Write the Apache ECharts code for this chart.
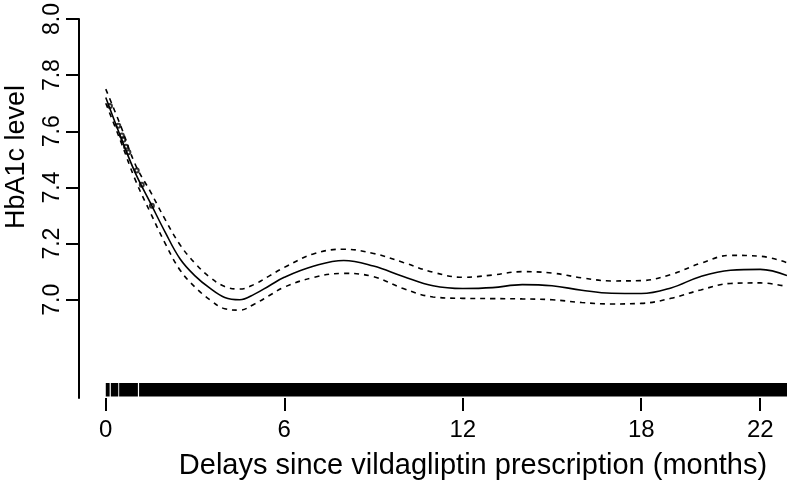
<!DOCTYPE html>
<html>
<head>
<meta charset="utf-8">
<script src="https://cdn.jsdelivr.net/npm/echarts@6/dist/echarts.min.js"></script>
<style>html,body{margin:0;padding:0;background:#fff;}#c{width:787px;height:481px;}</style>
</head>
<body>
<div id="c"></div>
<script>
// Months since prescription
var months = [0, 0.5, 1, 1.5, 2, 2.5, 3, 3.5, 4, 4.5, 5, 5.5, 6, 7, 8, 9, 10, 11, 12, 13, 14, 15, 16, 17, 18, 19, 20, 21, 22, 22.9];
// Fitted HbA1c
var fit = [7.72, 7.58, 7.45, 7.345, 7.24, 7.145, 7.085, 7.041, 7.008, 7.0, 7.02, 7.05, 7.08, 7.12, 7.14, 7.12, 7.083, 7.05, 7.04, 7.043, 7.054, 7.05, 7.034, 7.023, 7.022, 7.042, 7.083, 7.105, 7.108, 7.086];
// Upper confidence band
var upper = [7.75, 7.62, 7.48, 7.385, 7.285, 7.195, 7.13, 7.08, 7.047, 7.038, 7.055, 7.085, 7.115, 7.164, 7.18, 7.165, 7.133, 7.098, 7.08, 7.088, 7.1, 7.095, 7.078, 7.067, 7.068, 7.09, 7.13, 7.158, 7.155, 7.132];
// Lower confidence band
var lower = [7.70, 7.565, 7.425, 7.31, 7.2, 7.105, 7.045, 7.0, 6.968, 6.963, 6.985, 7.015, 7.045, 7.08, 7.094, 7.082, 7.04, 7.01, 7.005, 7.004, 7.003, 7.0, 6.99, 6.985, 6.987, 7.005, 7.035, 7.058, 7.06, 7.047];
// Small observed points near the start
var obsMonths = [0.14, 0.42, 0.54, 0.59, 0.68, 0.76, 1.04, 1.21, 1.55];
var obsValues = [7.69, 7.62, 7.585, 7.57, 7.545, 7.525, 7.46, 7.41, 7.335];
// Rug segments (dense observation times)
var rugStart = [0, 0.17, 0.45, 1.12];
var rugEnd = [0.13, 0.42, 1.08, 22.9];
// Tick labels
var xTicks = [0, 6, 12, 18, 22];
var yTicks = [7.0, 7.2, 7.4, 7.6, 7.8, 8.0];

function zip(a, b) { return a.map(function (v, i) { return [v, b[i]]; }); }

var font = 'Liberation Sans, Arial, sans-serif';
var chart = echarts.init(document.getElementById('c'));
chart.setOption({
  animation: false,
  backgroundColor: '#fff',
  grid: { left: 79, right: 0, top: 14, bottom: 83, containLabel: false },
  xAxis: {
    type: 'value', min: -0.9, max: 22.9,
    axisLine: { show: false },
    splitLine: { show: false },
    axisTick: { show: true, customValues: xTicks, length: 13, lineStyle: { color: '#000', width: 2 } },
    axisLabel: { customValues: xTicks, margin: 20, color: '#000', fontSize: 24, fontFamily: font }
  },
  yAxis: {
    type: 'value', min: 6.65, max: 8.0,
    axisLine: { show: true, onZero: false, lineStyle: { color: '#000', width: 2 } },
    splitLine: { show: false },
    axisTick: { show: true, customValues: yTicks, length: 13, lineStyle: { color: '#000', width: 2 } },
    axisLabel: { customValues: yTicks, rotate: 90, margin: 15, color: '#000', fontSize: 23, fontFamily: font,
      formatter: function (v) { return v.toFixed(1); } }
  },
  graphic: [
    { type: 'text', x: 473, y: 466, style: { text: 'Delays since vildagliptin prescription (months)', fill: '#000', font: '29px ' + font, textAlign: 'center', textVerticalAlign: 'middle' } },
    { type: 'text', x: 17, y: 157, rotation: Math.PI / 2, style: { text: 'HbA1c level', fill: '#000', font: '27px ' + font, textAlign: 'center', textVerticalAlign: 'middle' } }
  ],
  series: [
    { type: 'line', data: zip(months, fit), smooth: 0.4, showSymbol: false, lineStyle: { color: '#000', width: 1.6 } },
    { type: 'line', data: zip(months, upper), smooth: 0.4, showSymbol: false, lineStyle: { color: '#000', width: 1.6, type: [5, 5] } },
    { type: 'line', data: zip(months, lower), smooth: 0.4, showSymbol: false, lineStyle: { color: '#000', width: 1.6, type: [5, 5] } },
    { type: 'scatter', data: zip(obsMonths, obsValues), symbol: 'emptyCircle', symbolSize: 4, itemStyle: { color: '#000', borderColor: '#000', borderWidth: 1 } },
    { type: 'custom', data: zip(rugStart, rugEnd), encode: { x: [0, 1] },
      renderItem: function (params, api) {
        var p1 = api.coord([api.value(0), 6.65]);
        var p2 = api.coord([api.value(1), 6.65]);
        return { type: 'rect', shape: { x: p1[0], y: p1[1] - 15, width: Math.max(1, p2[0] - p1[0]), height: 13.5 }, style: { fill: '#000' } };
      }
    }
  ]
});
</script>
</body>
</html>
